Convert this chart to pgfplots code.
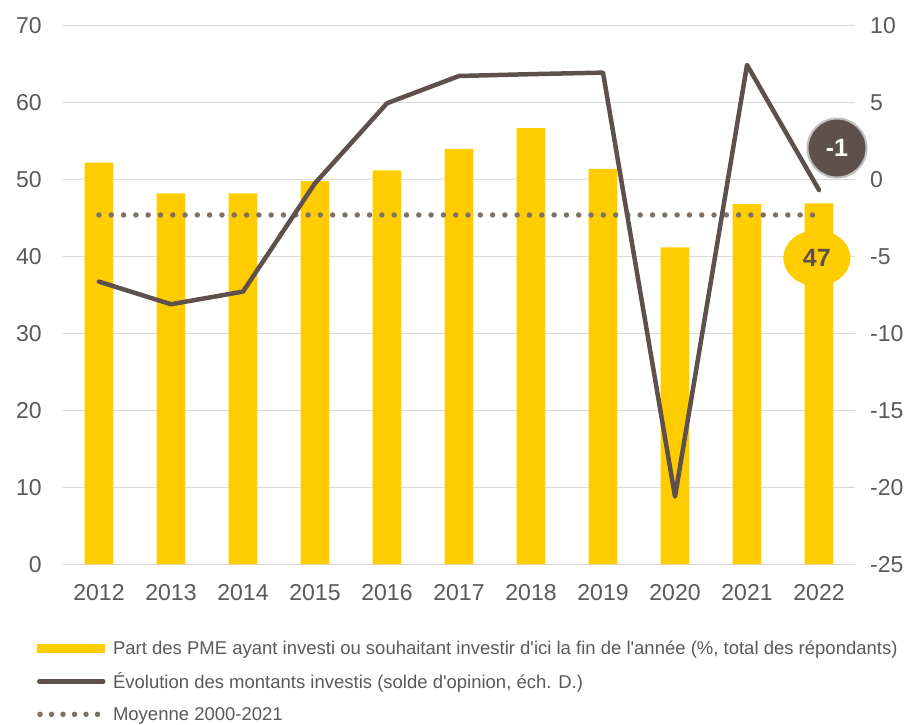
\documentclass[border=0pt]{standalone}
\usepackage{fontspec}
\setmainfont{Liberation Sans}
\usepackage{pgfplots}
\pgfplotsset{compat=1.18}
\usetikzlibrary{shapes.geometric}
\usepackage{pgfplotstable}

\definecolor{pmeyellow}{HTML}{FFCC00}
\definecolor{soldebrown}{HTML}{5E514D}
\definecolor{dotgray}{HTML}{7F7166}
\definecolor{textgray}{HTML}{595959}
\definecolor{gridgray}{HTML}{D9D9D9}

% x = position of the year, part = % of SMEs (left), solde = opinion balance (right)
\pgfplotstableread{
x year part solde
0  2012 52.2 -6.63
1  2013 48.2 -8.10
2  2014 48.2 -7.28
3  2015 49.8 -0.24
4  2016 51.2  4.96
5  2017 54.0  6.73
6  2018 56.7  6.85
7  2019 51.4  6.95
8  2020 41.2 -20.6
9  2021 46.8  7.45
10 2022 46.9 -0.68
}\data

\pgfplotsset{
  base/.style={
    scale only axis, width=792pt, height=538.6pt,
    xmin=-0.5, xmax=10.5,
    axis line style={draw=none},
    major tick length=0pt,
    tick label style={font=\fontsize{23}{27}\selectfont, text=textgray},
    /pgf/number format/assume math mode=true,
    clip=false,
  },
  barleg/.style={legend image code/.code={\fill[pmeyellow] (0pt,-4.5pt) rectangle (68pt,4.5pt);}},
  lineleg/.style={legend image code/.code={\draw[soldebrown, line width=4.5pt, line cap=round] (2pt,0pt) -- (66pt,0pt);}},
  dotleg/.style={legend image code/.code={\draw[dotgray, line width=5.5pt, line cap=round, dash pattern=on 0pt off 11.5pt] (2.75pt,0pt) -- (66pt,0pt);}},
}

\begin{document}
\begin{tikzpicture}
\begin{axis}[base,
  ymin=0, ymax=70, ytick={0,10,...,70},
  ymajorgrids, grid style={gridgray, line width=1.5pt},
  xtick={0,...,10},
  xticklabels={2012,2013,2014,2015,2016,2017,2018,2019,2020,2021,2022},
  yticklabel style={anchor=east, inner sep=0pt, xshift=-21pt},
  xticklabel style={anchor=north, inner sep=0pt, yshift=-20pt},
  legend style={at={(-0.033,-0.138)}, anchor=north west, draw=none, fill=none,
    inner sep=0pt, font=\fontsize{18.5}{21}\selectfont, text=textgray,
    row sep=12.8pt, /tikz/every odd column/.append style={column sep=5pt}},
  legend cell align=left,
]
\addplot[ybar, bar width=28.8pt, fill=pmeyellow, draw=none, barleg]
  table[x=x, y=part]{\data};
\addlegendimage{lineleg}
\addplot[dotgray, line width=5.5pt, line cap=round, dash pattern=on 0pt off 12.3pt, dotleg]
  coordinates {(0,45.4) (10,45.4)};
\legend{{Part des PME ayant investi ou souhaitant investir d\textquotesingle ici la fin de l\textquotesingle ann\'ee (\%, total des r\'epondants)},
  {\'Evolution des montants investis (solde d\textquotesingle opinion, \'ech. D.)},
  {Moyenne 2000-2021}}
\node[ellipse, fill=pmeyellow, minimum width=67pt, minimum height=56pt, inner sep=0pt,
  font=\bfseries\fontsize{25}{28}\selectfont, text=soldebrown] at (axis cs:9.97,39.8) {47};
\coordinate (bbtl) at (rel axis cs:-0.0795,1.0477);
\coordinate (bbbr) at (rel axis cs:1.0732,-0.2965);
\end{axis}

\begin{axis}[base,
  ymin=-25, ymax=10, ytick={-25,-20,...,10},
  hide x axis,
  yticklabel pos=right,
  yticklabel style={anchor=west, inner sep=0pt, xshift=15pt},
]
\addplot[soldebrown, line width=4.5pt, line cap=round, line join=round]
  table[x=x, y=solde]{\data};
\node[circle, fill=soldebrown, draw=gray!50, line width=2pt, minimum size=59pt, inner sep=0pt,
  font=\bfseries\fontsize{25}{28}\selectfont, text=white] at (axis cs:10.25,2.05) {-1};
\end{axis}
\path (bbtl) rectangle (bbbr);
\end{tikzpicture}
\end{document}
